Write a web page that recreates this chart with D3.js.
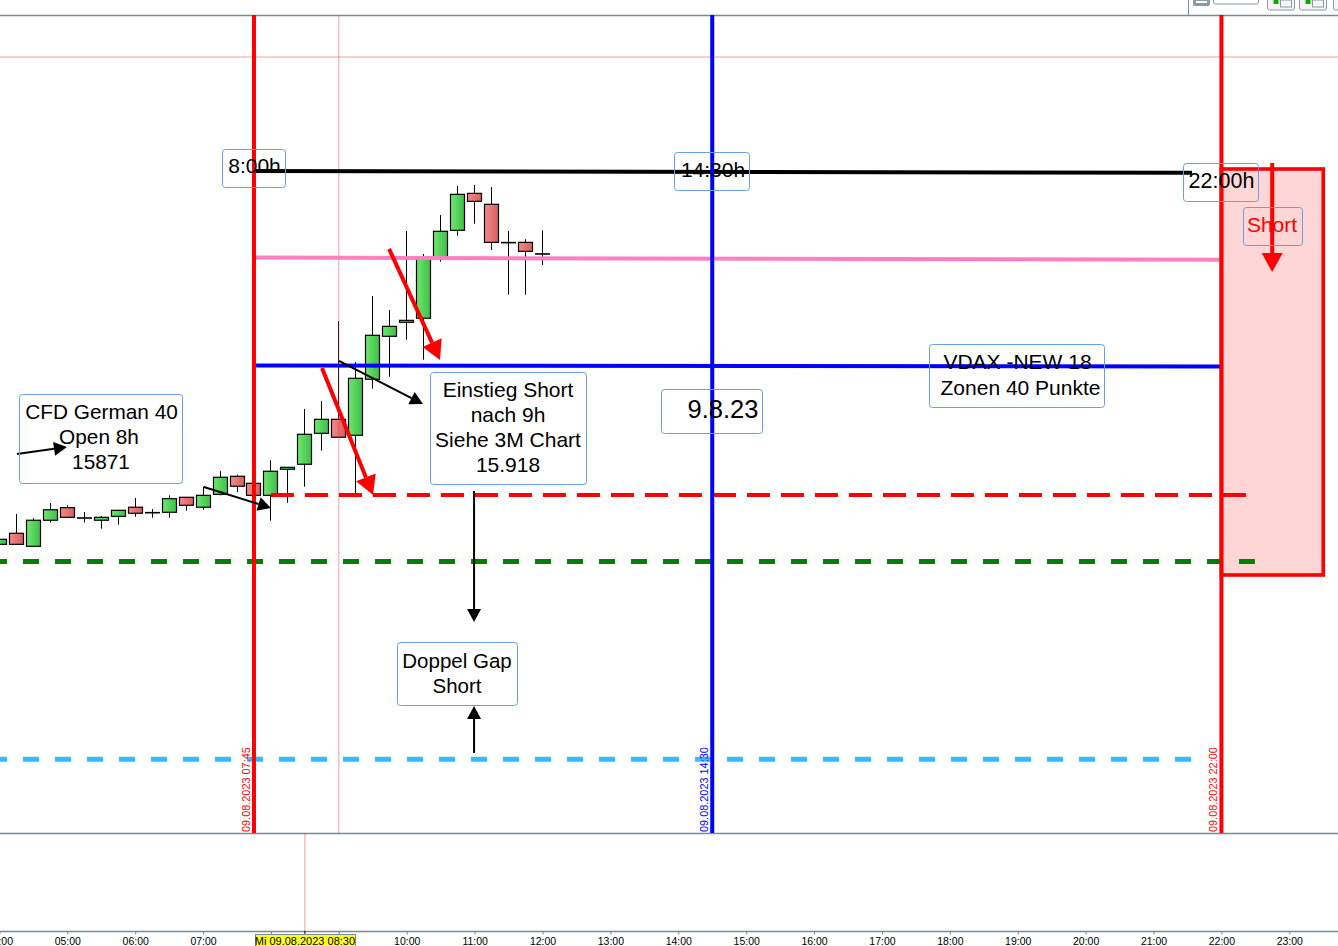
<!DOCTYPE html>
<html>
<head>
<meta charset="utf-8">
<title>CFD German 40</title>
<script src="https://cdn.jsdelivr.net/npm/d3@7"></script>
<style>
html, body { margin: 0; padding: 0; background: #fff; overflow: hidden; }
svg { display: block; font-family: "Liberation Sans", Arial, sans-serif; }
</style>
</head>
<body>
<div id="canvas"></div>
<script>
/* 15 minute candles, 09.08.2023, start 04:00 */
var startMinute = 240;
var opens = [15882.9,15890.8,15881.5,15900.1,15909.1,15901.7,15900.1,15902.9,15909.4,15905.5,15905.8,15916.5,15909.4,15918.6,15931.5,15926.5,15917.9,15936.5,15940.1,15962.2,15972.2,15960.8,16000.8,16031.5,16041.5,16044.4,16087.4,16107.2,16133.6,16125.8,16098.4,16098.6,16090.3];
var highs = [15886.5,15904.6,15901.5,15912.4,15910.8,15906.0,15903.1,15907.2,15916.0,15908.1,15917.9,15916.5,15924.1,15935.3,15932.6,15926.5,15942.9,15937.9,15979.6,15985.3,16042.4,16013.1,16060.3,16050.3,16106.7,16090.3,16118.1,16138.9,16139.6,16138.1,16106.7,16100.8,16107.2];
var lows = [15882.9,15882.9,15881.5,15898.6,15902.2,15898.6,15894.1,15896.9,15902.6,15901.9,15901.9,15906.9,15907.6,15917.9,15920.1,15917.9,15899.8,15912.6,15924.1,15949.8,15959.4,15916.5,15994.1,16002.6,16029.1,16014.8,16084.8,16103.4,16111.9,16093.1,16061.2,16061.2,16082.4];
var closes = [15886.5,15882.9,15900.1,15907.6,15902.2,15901.7,15902.2,15907.2,15905.1,15905.5,15915.5,15910.8,15917.9,15930.8,15924.4,15917.9,15935.1,15937.9,15961.5,15972.2,15959.4,16001.5,16032.2,16038.6,16042.9,16087.4,16106.5,16132.9,16127.9,16098.6,16098.4,16092.2,16090.3];

/* horizontal levels: minute from, minute to, price from, price to */
var blackLevel = [465, 1294, 16149.6, 16148.3];
var pinkLevel = [465, 1320, 16087.7, 16086.2];
var blueLevel = [465, 1320, 16010.7, 16010.0];
var entryLevel = [480, 1341.8, 15918.1, 15918.1];
var openLevel = [232.6, 1349.6, 15870.6, 15870.6];
var gapLevel = [232.6, 1294.2, 15729.4, 15729.4];

/* vertical time marks */
var markMinutes = [465, 870, 1320];
var markLabels = ['09.08.2023 07:45', '09.08.2023 14:30', '09.08.2023 22:00'];
var markColors = ['#ff0000', '#0000ff', '#ff0000'];

/* short zone: minutes then prices */
var shortZone = [1320, 1410, 16151, 15861];

/* arrows: minute from, price from, minute to, price to */
var blackArrows = [
	[255.5, 15947.4, 299.7, 15952.4],
	[420.8, 15923.9, 480, 15908.9],
	[540.2, 16013.9, 614.4, 15983.1],
	[659.5, 15921, 659.5, 15827.4],
	[659.5, 15733.9, 659.5, 15767.4]
];
var redArrows = [
	[584.4, 16093.9, 629.4, 16014.6],
	[525.1, 16008.9, 570.2, 15918.1],
	[1364.9, 16155.3, 1364.9, 16077.4]
];

var crossMinute = 540;
var crossPrice = 16231;
var timeCrossMinute = 510;
var timeCrossLabel = 'Mi 09.08.2023 08:30';
/* these two hour labels lie under the yellow time label */
var hiddenHours = [8, 9];

var canvasWidth = 1338,
    canvasHeight = 946;

var panelTop = 15,
    panelBottom = 833,
    axisY = 931;

var minuteToDate = function(m){
	return new Date(2023, 7, 9, 0, 0, m * 60);
};

var x = d3.scaleTime()
	.domain([minuteToDate(240), minuteToDate(1380)])
	.range([-0.6, 1289.3]);

var y = d3.scaleLinear()
	.domain([15676.7, 16231])
	.range([833, 57]);

var svg = d3.select('#canvas')
	.append('svg')
	.attr('width', canvasWidth)
	.attr('height', canvasHeight);

var defs = svg.append('defs');

function addGradient(id, from, to){
	var g = defs.append('linearGradient').attr('id', id);
	g.append('stop').attr('offset', '0%').attr('stop-color', from);
	g.append('stop').attr('offset', '100%').attr('stop-color', to);
}
addGradient('upFill', '#6ee86e', '#3fbe4a');
addGradient('downFill', '#f58a8a', '#d65f5f');

/* frame */
var frameColor = '#7a8b93';
[panelTop, panelBottom, axisY].forEach(function(lineY){
	svg.append('line')
		.attr('x1', 0).attr('x2', canvasWidth)
		.attr('y1', lineY + 0.5).attr('y2', lineY + 0.5)
		.style('stroke', frameColor).style('stroke-width', '1.4px');
});

/* toolbar stubs at the top right */
var toolbar = svg.append('g');
toolbar.append('line').attr('x1', 1188.5).attr('x2', 1188.5).attr('y1', 0).attr('y2', panelTop)
	.style('stroke', frameColor);
toolbar.append('rect').attr('x', 1193).attr('y', -6).attr('width', 17).attr('height', 12).attr('rx', 2)
	.style('fill', '#8a9ba5');
toolbar.append('rect').attr('x', 1196).attr('y', 1).attr('width', 11).attr('height', 2)
	.style('fill', '#ffffff');
toolbar.append('rect').attr('x', 1213.5).attr('y', -8).attr('width', 45).attr('height', 12).attr('rx', 2)
	.style('fill', '#fff').style('stroke', '#8a9ba5');
[1267.5, 1299.5, 1333.5].forEach(function(bx){
	toolbar.append('rect').attr('x', bx).attr('y', -8).attr('width', 27).attr('height', 18).attr('rx', 2)
		.style('fill', '#f4f6f7').style('stroke', '#8a9ba5');
	toolbar.append('rect').attr('x', bx + 6).attr('y', 0).attr('width', 5).attr('height', 4)
		.style('fill', '#00b000');
	toolbar.append('rect').attr('x', bx + 13).attr('y', 0).attr('width', 11).attr('height', 7)
		.style('fill', 'none').style('stroke', '#8a9ba5');
});

/* short zone sits behind the lines */
svg.append('rect')
	.attr('x', x(minuteToDate(shortZone[0])))
	.attr('y', y(shortZone[2]))
	.attr('width', x(minuteToDate(shortZone[1])) - x(minuteToDate(shortZone[0])))
	.attr('height', y(shortZone[3]) - y(shortZone[2]))
	.style('fill', '#ffd6d6')
	.style('stroke', '#ff0000')
	.style('stroke-width', '3.6px');

/* candles */
var candleData = opens.map(function(o, i){
	return {t: minuteToDate(startMinute + i * 15), o: o, h: highs[i], l: lows[i], c: closes[i]};
});

var candles = svg.append('g').attr('class', 'candles')
	.selectAll('g')
	.data(candleData)
	.enter()
	.append('g')
	.attr('transform', function(d){ return 'translate(' + (Math.floor(x(d.t)) + 0.5) + ',0)'; });

candles.append('line')
	.attr('y1', function(d){ return y(d.h); })
	.attr('y2', function(d){ return y(d.l); })
	.style('stroke', '#000')
	.style('stroke-width', '1px');

candles.filter(function(d){ return d.o !== d.c; })
	.append('rect')
	.attr('x', -7)
	.attr('width', 14)
	.attr('y', function(d){ return y(Math.max(d.o, d.c)); })
	.attr('height', function(d){ return Math.abs(y(d.o) - y(d.c)); })
	.style('fill', function(d){ return d.c > d.o ? 'url(#upFill)' : 'url(#downFill)'; })
	.style('stroke', '#000')
	.style('stroke-width', '1.2px');

candles.filter(function(d){ return d.o === d.c; })
	.append('line')
	.attr('x1', -7.5)
	.attr('x2', 7.5)
	.attr('y1', function(d){ return y(d.o); })
	.attr('y2', function(d){ return y(d.o); })
	.style('stroke', '#000')
	.style('stroke-width', '1.6px');

/* crosshair */
svg.append('line')
	.attr('x1', x(minuteToDate(crossMinute))).attr('x2', x(minuteToDate(crossMinute)))
	.attr('y1', panelTop).attr('y2', panelBottom)
	.style('stroke', '#e84040').style('stroke-opacity', 0.5);
svg.append('line')
	.attr('x1', 0).attr('x2', canvasWidth)
	.attr('y1', y(crossPrice)).attr('y2', y(crossPrice))
	.style('stroke', '#e84040').style('stroke-opacity', 0.5);
svg.append('line')
	.attr('x1', x(minuteToDate(timeCrossMinute))).attr('x2', x(minuteToDate(timeCrossMinute)))
	.attr('y1', panelBottom).attr('y2', axisY)
	.style('stroke', '#e84040').style('stroke-opacity', 0.5);

/* levels */
function drawLevel(level, color, width, dash){
	svg.append('line')
		.attr('x1', x(minuteToDate(level[0])))
		.attr('x2', x(minuteToDate(level[1])))
		.attr('y1', y(level[2]))
		.attr('y2', y(level[3]))
		.style('stroke', color)
		.style('stroke-width', width + 'px')
		.style('stroke-dasharray', dash || null);
}
drawLevel(blackLevel, '#000000', 4);
drawLevel(pinkLevel, '#ff80c0', 4);
drawLevel(blueLevel, '#0000ff', 4);
drawLevel(entryLevel, '#ff0000', 4, '23 11');
drawLevel(openLevel, '#008000', 5, '16 16');
drawLevel(gapLevel, '#40b8f8', 5, '16 16');

/* vertical marks with their rotated labels */
markMinutes.forEach(function(m, i){
	var mx = x(minuteToDate(m));
	svg.append('line')
		.attr('x1', mx).attr('x2', mx)
		.attr('y1', panelTop).attr('y2', panelBottom)
		.style('stroke', markColors[i])
		.style('stroke-width', '4px');
	svg.append('text')
		.attr('transform', 'translate(' + (mx - 4) + ',' + (panelBottom - 1) + ') rotate(-90)')
		.style('fill', markColors[i])
		.style('font-size', '10.9px')
		.text(markLabels[i]);
});

/* arrows */
function drawArrow(a, color, width, headLength, headHalf){
	var x1 = x(minuteToDate(a[0])), y1 = y(a[1]),
	    x2 = x(minuteToDate(a[2])), y2 = y(a[3]);
	var angle = Math.atan2(y2 - y1, x2 - x1);
	var bx = x2 - headLength * Math.cos(angle),
	    by = y2 - headLength * Math.sin(angle);
	svg.append('line')
		.attr('x1', x1).attr('y1', y1).attr('x2', bx).attr('y2', by)
		.style('stroke', color).style('stroke-width', width + 'px');
	var nx = -Math.sin(angle) * headHalf,
	    ny = Math.cos(angle) * headHalf;
	svg.append('polygon')
		.attr('points', [[x2, y2], [bx + nx, by + ny], [bx - nx, by - ny]].join(' '))
		.style('fill', color);
}
blackArrows.forEach(function(a){ drawArrow(a, '#000000', 2, 13, 7); });
redArrows.forEach(function(a){ drawArrow(a, '#ff0000', 4, 19, 10.5); });

/* text boxes */
var boxBorder = '#6c9cf0';
function drawBox(left, top, w, h, lines, baselines, centres, size, color){
	svg.append('rect')
		.attr('x', left + 0.5).attr('y', top + 0.5)
		.attr('width', w).attr('height', h)
		.attr('rx', 3)
		.style('fill', 'none')
		.style('stroke', boxBorder)
		.style('stroke-width', '1px');
	lines.forEach(function(line, i){
		svg.append('text')
			.attr('x', centres[i])
			.attr('y', baselines[i])
			.attr('text-anchor', 'middle')
			.style('font-size', size + 'px')
			.style('fill', color || '#000')
			.text(line);
	});
}
drawBox(19, 394, 163, 89, ['CFD German 40', 'Open 8h', '15871'], [419, 444, 469], [101.5, 99, 101], 20.8);
drawBox(222, 149, 63, 38, ['8:00h'], [173], [254.5], 21);
drawBox(674, 152, 75, 38, ['14:30h'], [177], [713], 21);
drawBox(1183, 163, 75, 38, ['22:00h'], [188], [1221.5], 21.5);
drawBox(1243, 207, 59, 38, ['Short'], [232], [1272], 21, '#ff0000');
drawBox(430, 372, 156, 112, ['Einstieg Short', 'nach 9h', 'Siehe 3M Chart', '15.918'], [397, 422, 447, 472], [508, 508, 508, 508], 21);
drawBox(661, 389, 101, 44, ['9.8.23'], [418], [723], 25.5);
drawBox(929, 344, 175, 63, ['VDAX -NEW 18', 'Zonen 40 Punkte'], [369, 395], [1017.5, 1020.5], 21);
drawBox(397, 642, 120, 63, ['Doppel Gap', 'Short'], [668, 693], [457, 457], 20.5);

/* time axis */
var axis = d3.axisBottom(x)
	.ticks(d3.timeHour.every(1))
	.tickSize(3)
	.tickFormat(function(d){
		return hiddenHours.indexOf(d.getHours()) >= 0 ? '' : d3.timeFormat('%H:%M')(d);
	});

var axisGroup = svg.append('g')
	.attr('transform', 'translate(0,' + (axisY + 0.5) + ')')
	.call(axis);
axisGroup.select('.domain').remove();
axisGroup.selectAll('.tick line').style('stroke', frameColor);
axisGroup.selectAll('.tick text')
	.attr('y', 6)
	.style('font-family', '"Liberation Sans", Arial, sans-serif')
	.style('font-size', '10.5px')
	.style('fill', '#000');

/* time crosshair label */
var crossX = x(minuteToDate(timeCrossMinute));
svg.append('line')
	.attr('x1', crossX).attr('x2', crossX)
	.attr('y1', axisY).attr('y2', axisY + 3)
	.style('stroke', '#000');
svg.append('rect')
	.attr('x', 255.5).attr('y', 934.5)
	.attr('width', 100).attr('height', 14)
	.style('fill', '#ffff20')
	.style('stroke', '#7a8b93');
svg.append('text')
	.attr('x', crossX)
	.attr('y', 945)
	.attr('text-anchor', 'middle')
	.style('font-size', '11px')
	.text(timeCrossLabel);
</script>
</body>
</html>
